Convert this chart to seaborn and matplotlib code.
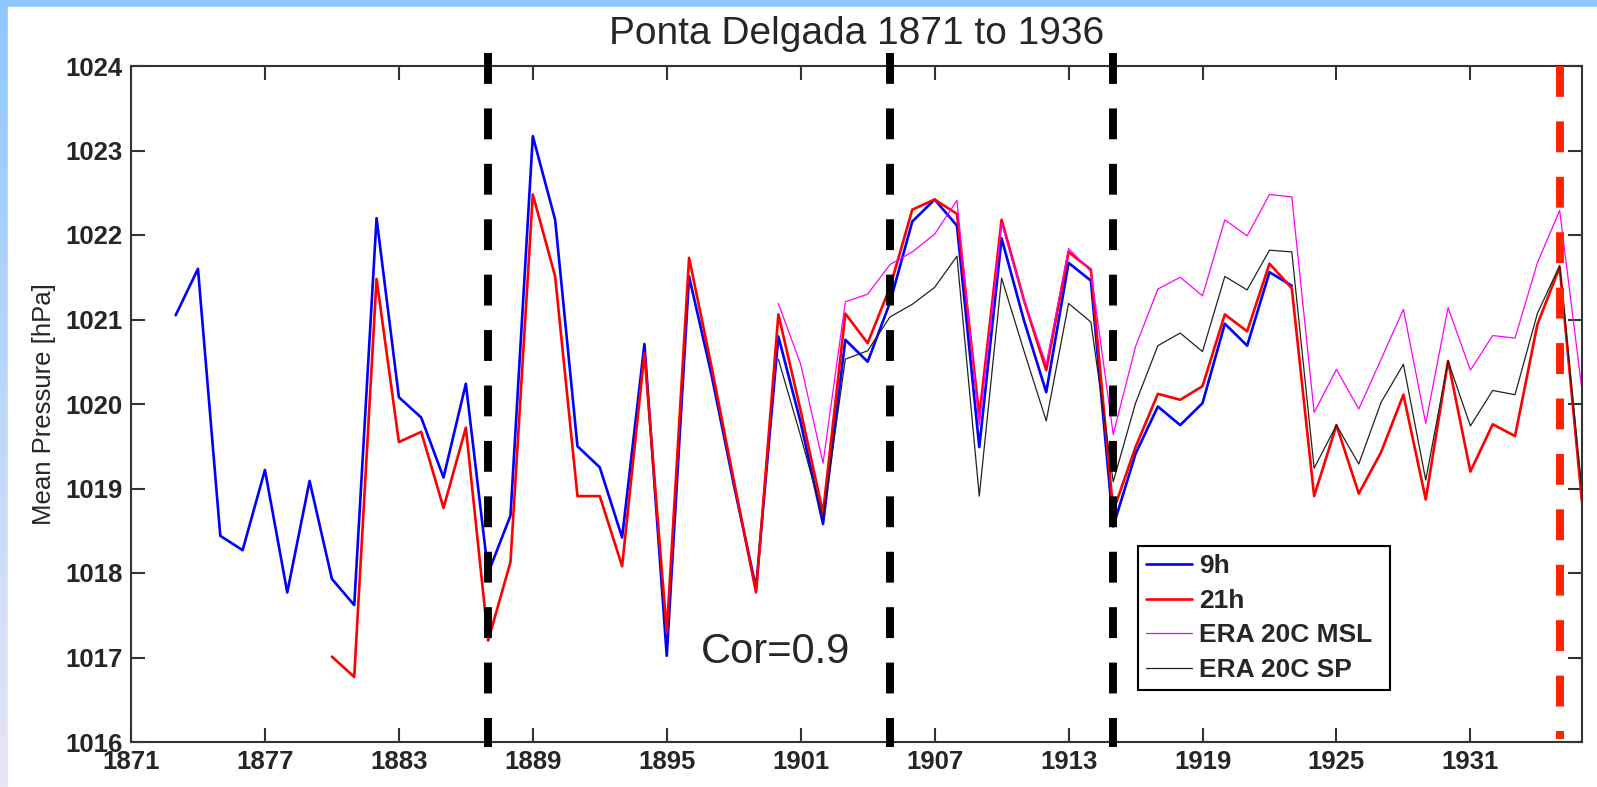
import matplotlib
matplotlib.use('Agg')
import matplotlib.pyplot as plt
from matplotlib.colors import LinearSegmentedColormap
from matplotlib.lines import Line2D
from matplotlib.patches import Rectangle
import seaborn as sns
import numpy as np

# annual mean pressure at Ponta Delgada [hPa]
years_9h = list(range(1873, 1924))
p_9h = [1021.05, 1021.60, 1018.44, 1018.27, 1019.22, 1017.77, 1019.09, 1017.93, 1017.62, 1022.20,
        1020.08, 1019.84, 1019.13, 1020.24, 1018.00, 1018.68, 1023.17, 1022.18, 1019.50, 1019.25,
        1018.42, 1020.71, 1017.02, 1021.51, 1020.35, 1019.05, 1017.82, 1020.80, 1019.78, 1018.58,
        1020.76, 1020.50, 1021.20, 1022.16, 1022.42, 1022.11, 1019.49, 1021.96, 1020.99, 1020.14,
        1021.67, 1021.46, 1018.55, 1019.41, 1019.97, 1019.75, 1020.01, 1020.95, 1020.69, 1021.56,
        1021.40]

years_21h = list(range(1880, 1937))
p_21h = [1017.01, 1016.77, 1021.48, 1019.55, 1019.67, 1018.77, 1019.72, 1017.20, 1018.13, 1022.48,
         1021.51, 1018.91, 1018.91, 1018.08, 1020.60, 1017.30, 1021.73, 1020.45, 1019.10, 1017.77,
         1021.06, 1019.92, 1018.71, 1021.07, 1020.72, 1021.38, 1022.30, 1022.42, 1022.25, 1019.85,
         1022.18, 1021.23, 1020.40, 1021.80, 1021.59, 1018.73, 1019.49, 1020.12, 1020.05, 1020.21,
         1021.06, 1020.86, 1021.66, 1021.37, 1018.91, 1019.75, 1018.94, 1019.43, 1020.11, 1018.87,
         1020.51, 1019.20, 1019.76, 1019.62, 1020.94, 1021.62, 1018.84]

years_era = list(range(1900, 1937))
p_msl = [1021.19, 1020.47, 1019.30, 1021.21, 1021.30, 1021.65, 1021.80, 1022.01, 1022.41, 1019.75,
         1022.14, 1021.23, 1020.47, 1021.84, 1021.57, 1019.64, 1020.68, 1021.36, 1021.50, 1021.28,
         1022.18, 1021.99, 1022.48, 1022.45, 1019.90, 1020.41, 1019.94, 1020.53, 1021.12, 1019.77,
         1021.14, 1020.40, 1020.81, 1020.78, 1021.67, 1022.29, 1020.16]
p_sp = [1020.53, 1019.62, 1018.65, 1020.53, 1020.63, 1021.03, 1021.18, 1021.38, 1021.75, 1018.91,
        1021.49, 1020.63, 1019.80, 1021.19, 1020.97, 1019.08, 1020.01, 1020.69, 1020.84, 1020.62,
        1021.51, 1021.35, 1021.82, 1021.80, 1019.24, 1019.75, 1019.29, 1020.02, 1020.47, 1019.10,
        1020.51, 1019.74, 1020.16, 1020.11, 1021.07, 1021.64, 1018.97]

break_years = [1887, 1905, 1915]
end_year = 1935
x_ticks = list(range(1871, 1932, 6))
y_ticks = list(range(1016, 1025))

sns.set_style('ticks')
plt.rcParams['font.family'] = ['Liberation Sans', 'DejaVu Sans']

fig = plt.figure(figsize=(15.97, 7.87), dpi=100)

# light blue frame around the slide
bg = fig.add_axes([0, 0, 1, 1], zorder=-10)
cmap = LinearSegmentedColormap.from_list('frame', ['#8ec8ff', '#e8e6f5'])
bg.imshow(np.linspace(0, 1, 256).reshape(-1, 1), aspect='auto', cmap=cmap, extent=[0, 1, 0, 1])
bg.add_patch(Rectangle((8 / 1597, 0), 1, 1 - 7 / 787, color='white'))
bg.set_xlim(0, 1)
bg.set_ylim(0, 1)
bg.set_axis_off()

ax = fig.add_axes([131 / 1597, 1 - 742 / 787, 1451 / 1597, 676 / 787])
sns.lineplot(x=years_9h, y=p_9h, color='#0000ff', lw=1.9, ax=ax)
sns.lineplot(x=years_21h, y=p_21h, color='#ff0000', lw=1.9, ax=ax)
sns.lineplot(x=years_era, y=p_msl, color='#ff00ff', lw=0.9, ax=ax)
sns.lineplot(x=years_era, y=p_sp, color='#222222', lw=0.9, ax=ax)

trans = ax.get_xaxis_transform()
for yr in break_years:
    ax.plot([yr, yr], [1.019, -0.008], transform=trans, color='black', lw=5.7,
            dashes=(3.9, 3.1), clip_on=False, zorder=5)
ax.plot([end_year, end_year], [1.0, 0.005], transform=trans, color='#ff2200', lw=5.7,
        dashes=(3.9, 3.1), clip_on=False, zorder=5)

ax.text(1896.54, 1016.93, 'Cor=0.9', fontsize=30, va='baseline')

ax.set_xlim(1871, 1936)
ax.set_ylim(1016, 1024)
ax.set_xticks(x_ticks)
ax.set_yticks(y_ticks)
ax.tick_params(axis='both', which='major', direction='in', length=10, width=1.5,
               color='#333333', labelsize=18.5, top=True, right=True)
ax.tick_params(axis='x', pad=6)
ax.tick_params(axis='y', pad=6)
for lbl in ax.get_xticklabels() + ax.get_yticklabels():
    lbl.set_fontweight('bold')
for s in ax.spines.values():
    s.set_linewidth(1.5)
    s.set_color('#333333')

ax.set_ylabel('Mean Pressure [hPa]', fontsize=18.5, labelpad=7)
ax.set_xlabel('')
ax.set_title('Ponta Delgada 1871 to 1936', fontsize=28, pad=16)

handles = [Line2D([], [], color='#0000ff', lw=1.9),
           Line2D([], [], color='#ff0000', lw=1.9),
           Line2D([], [], color='#ff00ff', lw=0.9),
           Line2D([], [], color='#222222', lw=0.9)]
leg = ax.legend(handles, ['9h', '21h', 'ERA 20C MSL', 'ERA 20C SP'], loc='lower left',
                bbox_to_anchor=(0.694, 0.077, 0.174, 0.2), mode='expand', borderaxespad=0,
                prop=dict(weight='bold', size=19), fancybox=False, edgecolor='black',
                framealpha=1, borderpad=0.3, labelspacing=0.4, handlelength=1.75,
                handletextpad=0.25)
leg.get_frame().set_linewidth(1.5)

plt.savefig('out.png', dpi=100)
